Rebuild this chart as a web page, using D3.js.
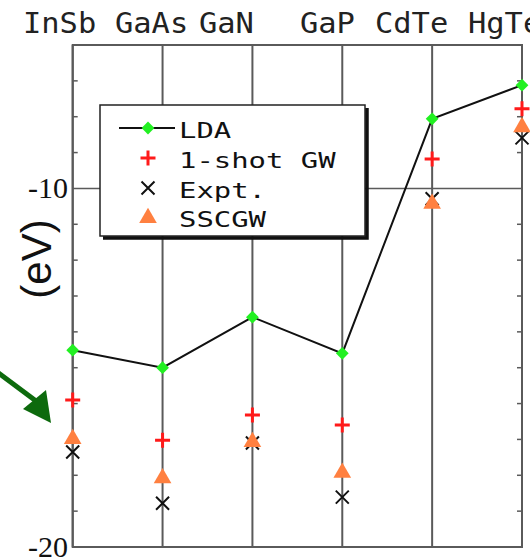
<!DOCTYPE html>
<html>
<head>
<meta charset="utf-8">
<script src="https://cdn.jsdelivr.net/npm/d3@7"></script>
<style>
  html, body { margin: 0; padding: 0; background: #fff; }
  svg { display: block; }
  text.serif { font-family: "Liberation Serif", "DejaVu Serif", serif; }
</style>
</head>
<body>
<svg id="chart" width="530" height="558"></svg>
<script>
// Semiconductor d-band positions (eV)
const materials = ["InSb", "GaAs", "GaN", "GaP", "CdTe", "HgTe"];
const labelStartX = [23, 115, 199, 300, 375, 468];
const lda   = [-14.51, -15.00, -13.59, -14.60, -8.06, -7.12];
const gw1   = [-15.90, -17.02, -16.32, -16.60, -9.18, -7.78];
const expt  = [-17.35, -18.78, -17.10, -18.61, -10.29, -8.59];
const sscgw = [-16.96, -18.05, -17.04, -17.90, -10.40, -8.26];
const yMajorTicks = [-20, -10];
const yMinorTicks = d3.range(-19, -5).filter(v => v !== -10);
const legendItems = ["LDA", "1-shot GW", "Expt.", "SSCGW"];

const svg = d3.select("#chart");
const plotL = 72.7, plotR = 522, plotT = 45, plotB = 547;
const grid = "#5a5a5a";

const x = d3.scalePoint().domain(materials).range([plotL, plotR]);
const y = d3.scaleLinear().domain([-20, -6]).range([plotB, plotT]);

// frame
svg.append("rect").attr("x", plotL).attr("y", plotT)
  .attr("width", plotR - plotL).attr("height", plotB - plotT)
  .attr("fill", "none").attr("stroke", grid).attr("stroke-width", 2);

// vertical lines at each material
svg.append("g").selectAll("line").data(materials).join("line")
  .attr("x1", d => x(d)).attr("x2", d => x(d))
  .attr("y1", plotT).attr("y2", plotB)
  .attr("stroke", grid).attr("stroke-width", 2);

// horizontal grid at -10
svg.append("line").attr("x1", plotL).attr("x2", plotR)
  .attr("y1", y(-10)).attr("y2", y(-10))
  .attr("stroke", grid).attr("stroke-width", 1.6);

// minor ticks, pointing inward on both sides
const tk = svg.append("g");
tk.selectAll(".tl").data(yMinorTicks).join("line").attr("class", "tl")
  .attr("x1", plotL).attr("x2", plotL + 5)
  .attr("y1", d => y(d)).attr("y2", d => y(d))
  .attr("stroke", grid).attr("stroke-width", 1.5);
tk.selectAll(".tr").data(yMinorTicks).join("line").attr("class", "tr")
  .attr("x1", plotR).attr("x2", plotR - 5)
  .attr("y1", d => y(d)).attr("y2", d => y(d))
  .attr("stroke", grid).attr("stroke-width", 1.5);

// y tick labels
svg.append("g").selectAll("text").data(yMajorTicks).join("text")
  .attr("class", "serif")
  .attr("x", 68).attr("y", d => y(d) + 10)
  .attr("text-anchor", "end")
  .attr("font-size", 30).attr("fill", "#111")
  .text(d => String(d));

// y axis title
svg.append("text")
  .attr("transform", "translate(51,259) rotate(-90)")
  .attr("text-anchor", "middle")
  .attr("font-family", "'Liberation Sans', Arial, sans-serif")
  .attr("font-size", 42).attr("fill", "#111")
  .text("(eV)");

// material names on top
svg.append("g").selectAll("text").data(materials).join("text")
  .attr("x", (d, i) => labelStartX[i]).attr("y", 33)
  .attr("font-family", "'DejaVu Sans Mono', monospace")
  .attr("font-size", 28).attr("fill", "#222")
  .attr("textLength", d => d.length * 18.3)
  .attr("lengthAdjust", "spacingAndGlyphs")
  .text(d => d);

// marker shapes
const plusPath = s => `M${-s},0H${s}M0,${-s}V${s}`;
const crossPath = s => `M${-s},${-s}L${s},${s}M${-s},${s}L${s},${-s}`;
const tri = d3.symbol().type(d3.symbolTriangle).size(135)();
const dia = d3.symbol().type(d3.symbolSquare).size(82)();

const drawPlus = (g, px, py) => g.append("path").attr("d", plusPath(7.5))
  .attr("transform", `translate(${px},${py})`)
  .attr("stroke", "#ff1a1a").attr("stroke-width", 3).attr("fill", "none");
const drawCross = (g, px, py) => g.append("path").attr("d", crossPath(6.5))
  .attr("transform", `translate(${px},${py})`)
  .attr("stroke", "#111").attr("stroke-width", 2).attr("fill", "none");
const drawTri = (g, px, py) => g.append("path").attr("d", tri)
  .attr("transform", `translate(${px},${py + 1})`)
  .attr("fill", "#ff8040");
const drawDia = (g, px, py) => g.append("path").attr("d", dia)
  .attr("transform", `translate(${px},${py}) rotate(45)`)
  .attr("fill", "#22f022");

// LDA line
svg.append("path")
  .datum(lda)
  .attr("d", d3.line().x((d, i) => x(materials[i])).y(d => y(d)))
  .attr("fill", "none").attr("stroke", "#111").attr("stroke-width", 2);

const marks = svg.append("g");
expt.forEach((v, i) => drawCross(marks, x(materials[i]), y(v)));
sscgw.forEach((v, i) => drawTri(marks, x(materials[i]), y(v)));
gw1.forEach((v, i) => drawPlus(marks, x(materials[i]), y(v)));
lda.forEach((v, i) => drawDia(marks, x(materials[i]), y(v)));

// legend
const lg = svg.append("g");
lg.append("rect").attr("x", 100).attr("y", 105).attr("width", 265).attr("height", 131)
  .attr("fill", "#fff").attr("stroke", "#222").attr("stroke-width", 1.5);
lg.append("path").attr("d", "M103,238H367V108")
  .attr("fill", "none").attr("stroke", "#111").attr("stroke-width", 3.5);
const rowY = [128, 158, 188, 217];
lg.append("line").attr("x1", 119).attr("x2", 175).attr("y1", rowY[0]).attr("y2", rowY[0])
  .attr("stroke", "#111").attr("stroke-width", 2);
drawDia(lg, 148, rowY[0]);
drawPlus(lg, 148, rowY[1]);
drawCross(lg, 148, rowY[2]);
drawTri(lg, 148, rowY[3]);
lg.selectAll("text").data(legendItems).join("text")
  .attr("x", 179).attr("y", (d, i) => rowY[i] + 10)
  .attr("font-family", "'DejaVu Sans Mono', monospace")
  .attr("font-size", 21).attr("fill", "#111")
  .attr("textLength", d => d.length * 17.4)
  .attr("lengthAdjust", "spacingAndGlyphs")
  .text(d => d);

// annotation arrow
const arrow = svg.append("g").attr("fill", "#0d6a0d").attr("stroke", "#0d6a0d");
arrow.append("line").attr("x1", -4).attr("y1", 371).attr("x2", 36).attr("y2", 401)
  .attr("stroke-width", 5);
arrow.append("path").attr("d", "M23,409L46,390L51,423Z").attr("stroke", "none");
</script>
</body>
</html>
